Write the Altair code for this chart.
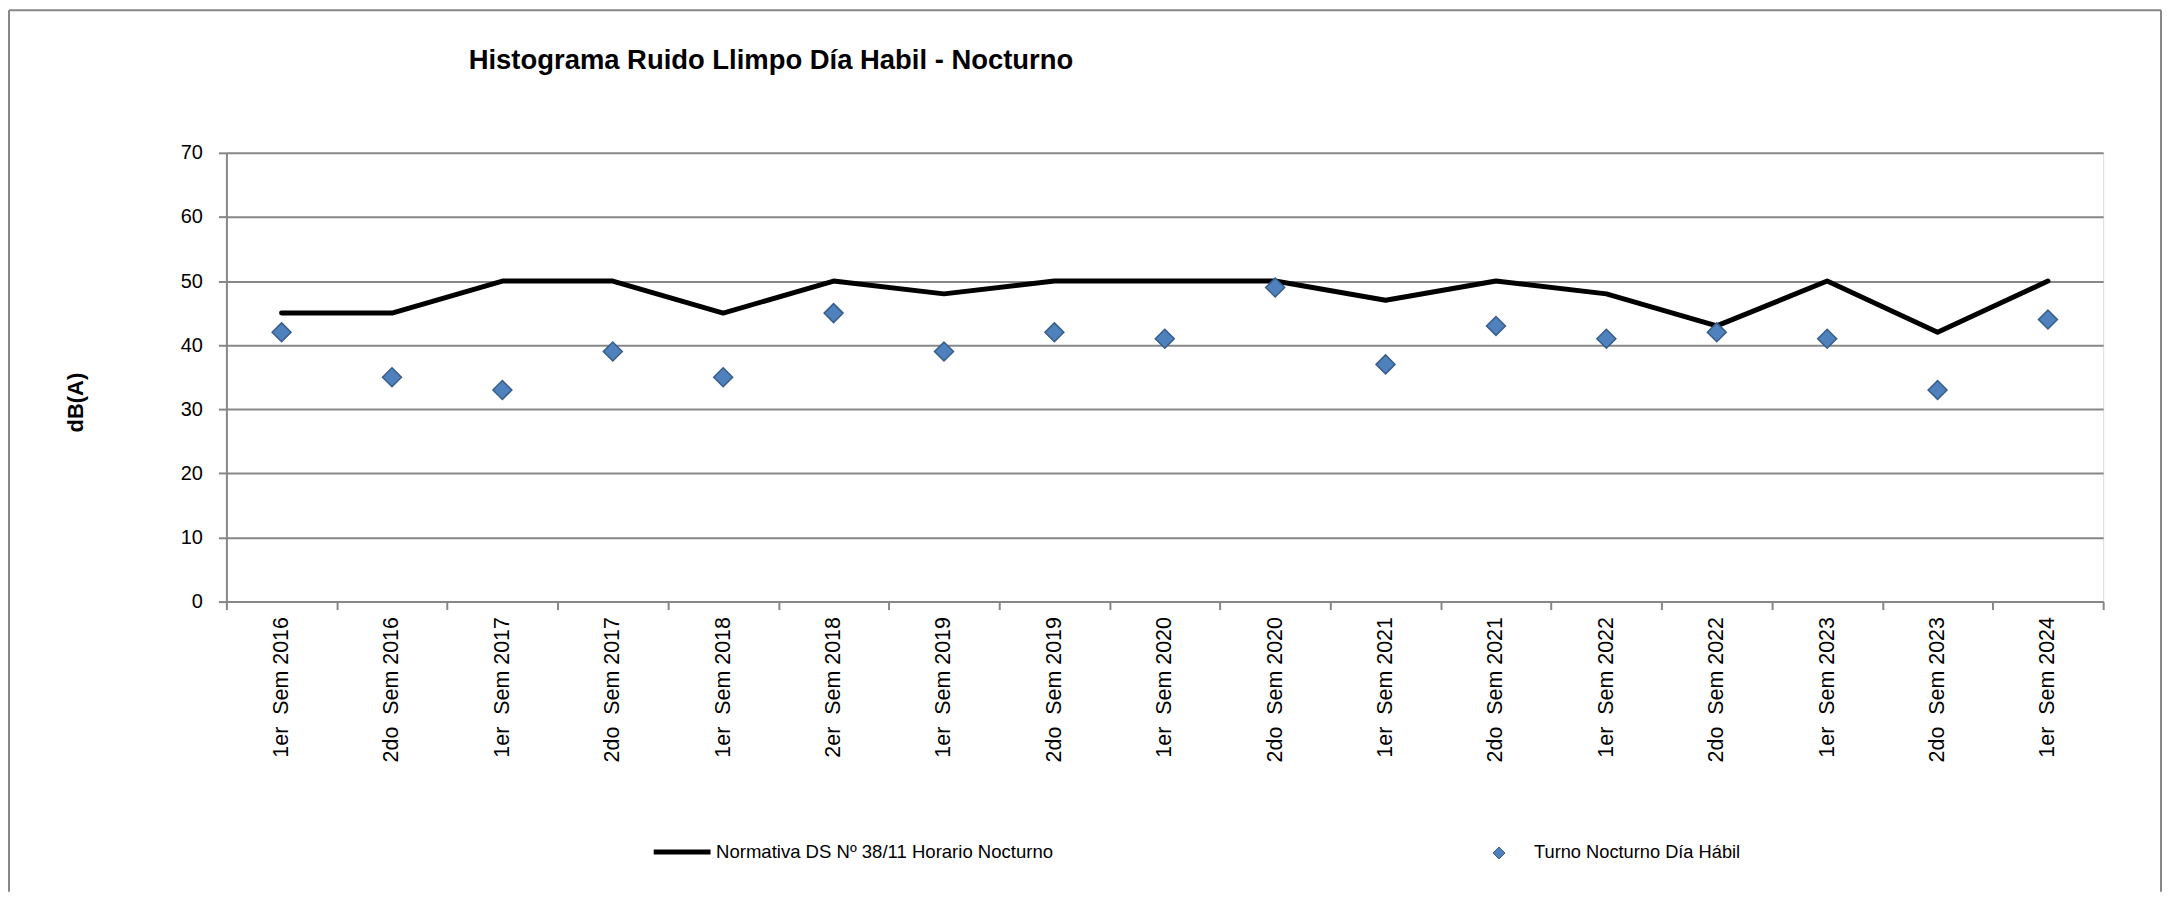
import altair as alt
import pandas as pd

# ---------------- data ----------------
categorias = [
    "1er\u00a0 Sem 2016", "2do\u00a0 Sem 2016", "1er\u00a0 Sem 2017", "2do\u00a0 Sem 2017",
    "1er\u00a0 Sem 2018", "2er\u00a0 Sem 2018", "1er\u00a0 Sem 2019", "2do\u00a0 Sem 2019",
    "1er\u00a0 Sem 2020", "2do\u00a0 Sem 2020", "1er\u00a0 Sem 2021", "2do\u00a0 Sem 2021",
    "1er\u00a0 Sem 2022", "2do\u00a0 Sem 2022", "1er\u00a0 Sem 2023", "2do\u00a0 Sem 2023",
    "1er\u00a0 Sem 2024",
]
normativa = [45, 45, 50, 50, 45, 50, 48, 50, 50, 50, 47, 50, 48, 43, 50, 42, 50]
turno = [42, 35, 33, 39, 35, 45, 39, 42, 41, 49, 37, 43, 41, 42, 41, 33, 44]
y_ticks = [0, 10, 20, 30, 40, 50, 60, 70]

SERIE_LINEA = "Normativa DS Nº 38/11 Horario Nocturno"
SERIE_PUNTOS = "Turno Nocturno Día Hábil"
TITULO = "Histograma Ruido Llimpo Día Habil - Nocturno"

FONT = "Liberation Sans"
GRIS = "#878787"

df = pd.DataFrame({"periodo": categorias, "normativa": normativa, "turno": turno})
df["serie_linea"] = SERIE_LINEA
df["serie_puntos"] = SERIE_PUNTOS

x_enc = alt.X(
    "periodo:N",
    sort=categorias,
    scale=alt.Scale(type="band", paddingInner=0, paddingOuter=0),
    axis=alt.Axis(
        title=None,
        tickBand="extent",
        labelAngle=270,
        labelFont=FONT,
        labelFontSize=21.5,
        labelColor="#000000",
        labelPadding=7,
        labelLimit=400,
        tickSize=8,
        tickColor=GRIS,
        tickWidth=2,
        domainColor=GRIS,
        domainWidth=2,
        grid=False,
    ),
)

y_axis = alt.Axis(
    title="dB(A)",
    values=y_ticks,
    grid=True,
    gridColor=GRIS,
    gridWidth=2,
    tickSize=8,
    tickColor=GRIS,
    tickWidth=2,
    domainColor=GRIS,
    domainWidth=2,
    labelFont=FONT,
    labelFontSize=20,
    labelColor="#000000",
    labelPadding=16,
    titleFont=FONT,
    titleFontSize=22,
    titleFontWeight="bold",
    titleColor="#000000",
    titleAngle=270,
    titleAlign="center",
    titleBaseline="middle",
    titleX=-151,
    titleY=250,
)
y_scale = alt.Scale(domain=[0, 70], nice=False)

base = alt.Chart(df)

linea = base.mark_line(strokeWidth=5, strokeJoin="round", strokeCap="round").encode(
    x=x_enc,
    y=alt.Y("normativa:Q", scale=y_scale, axis=y_axis, title="dB(A)"),
    stroke=alt.Stroke(
        "serie_linea:N",
        scale=alt.Scale(domain=[SERIE_LINEA], range=["#000000"]),
        legend=alt.Legend(
            title=None,
            orient="none",
            legendX=426,
            legendY=670,
            padding=0,
            symbolType="stroke",
            symbolSize=3249,
            symbolStrokeWidth=5,
            labelOffset=3,
            labelFont=FONT,
            labelFontSize=18.6,
            labelColor="#000000",
            labelLimit=600,
        ),
    ),
)

puntos = base.mark_point(
    shape="diamond", filled=True, size=361, stroke="#385D8A", strokeWidth=1.5, opacity=1
).encode(
    x=x_enc,
    y=alt.Y("turno:Q", scale=y_scale, axis=y_axis, title="dB(A)"),
    fill=alt.Fill(
        "serie_puntos:N",
        scale=alt.Scale(domain=[SERIE_PUNTOS], range=["#4F81BD"]),
        legend=alt.Legend(
            title=None,
            orient="none",
            legendX=1267,
            legendY=693,
            padding=0,
            symbolType="diamond",
            symbolSize=144,
            symbolStrokeColor="#385D8A",
            symbolStrokeWidth=1,
            symbolOpacity=1,
            labelOffset=26,
            labelFont=FONT,
            labelFontSize=18.3,
            labelColor="#000000",
            labelLimit=600,
        ),
    ),
)

# outer chart frame (decorative border)
marco = alt.Chart(pd.DataFrame({"m": [0]}))
borde_izq = marco.mark_rule(color=GRIS, strokeWidth=2).encode(
    x=alt.value(-218), y=alt.value(-143), y2=alt.value(741)
)
borde_der = marco.mark_rule(color=GRIS, strokeWidth=2).encode(
    x=alt.value(1940), y=alt.value(-143), y2=alt.value(741)
)
borde_sup = marco.mark_rule(color=GRIS, strokeWidth=2).encode(
    x=alt.value(-218), x2=alt.value(1940), y=alt.value(-143)
)

chart = (
    alt.layer(borde_izq, borde_der, borde_sup, linea, puntos)
    .properties(
        width=1882,
        height=450,
        padding=0,
        title=alt.Title(
            TITULO,
            font=FONT,
            fontSize=27.5,
            fontWeight="bold",
            color="#000000",
            anchor="start",
            frame="group",
            dx=243,
            offset=-87,
            baseline="alphabetic",
        ),
    )
    .resolve_scale(stroke="independent", fill="independent")
    .configure_view(strokeWidth=0)
    .configure(background="#ffffff")
)

chart.save("out.html", embed_options={"renderer": "svg", "actions": False})
